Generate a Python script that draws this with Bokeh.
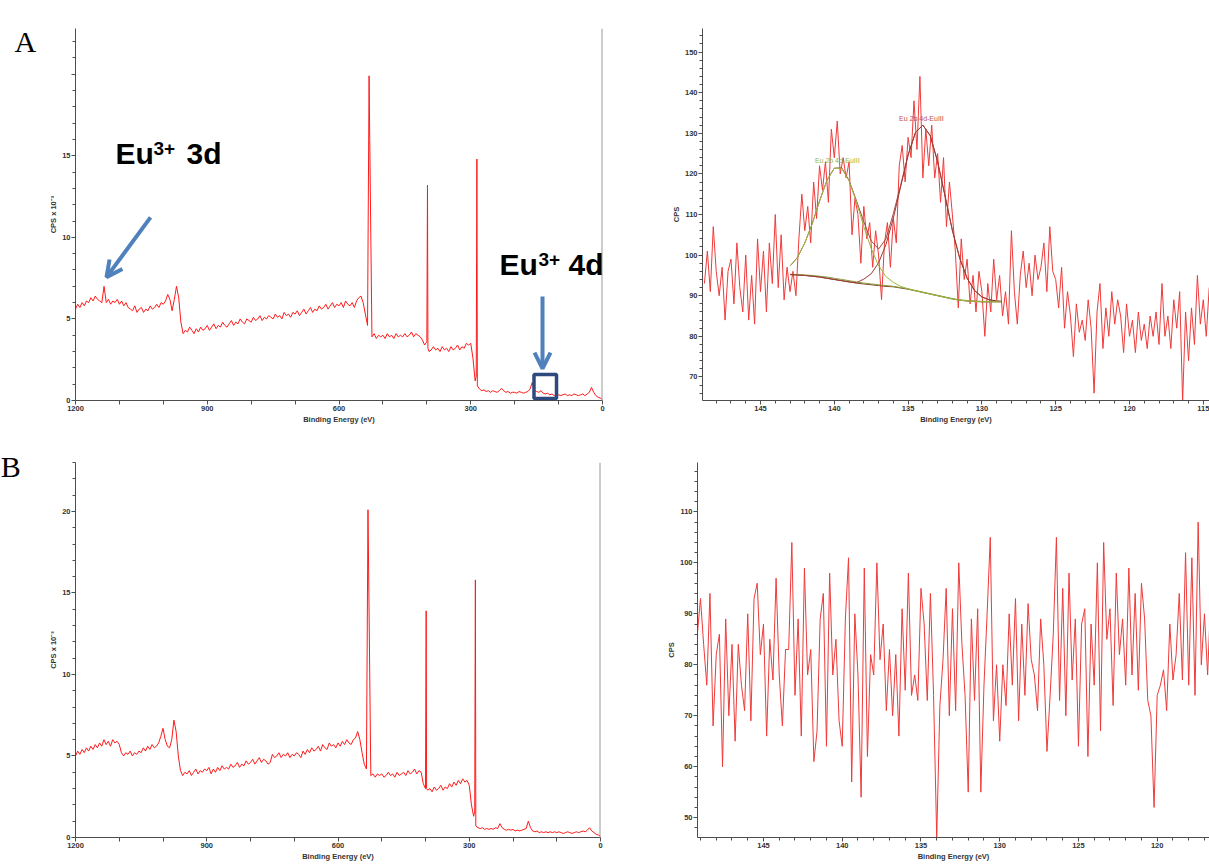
import numpy as np
import pandas as pd
from bokeh.plotting import figure
from bokeh.models import Range1d, FixedTicker, Label, Arrow, OpenHead, BoxAnnotation, Span
from bokeh.layouts import column, row
from bokeh.embed import file_html
from bokeh.resources import INLINE

# ---------------- survey spectra (binding energy, eV; counts in kCPS) ----------------
survey_be = list(range(1200, -1, -5))
survey_a_cps = [
    5.6, 5.9, 5.7, 6.0, 5.8, 6.1, 6.0, 6.3, 6.1, 6.4,
    6.2, 6.1, 6.0, 7.0, 6.0, 6.2, 5.9, 6.1, 6.0, 6.2,
    5.9, 6.1, 5.8, 6.0, 5.7, 5.6, 5.5, 5.8, 5.4, 5.6,
    5.7, 5.4, 5.6, 5.5, 5.8, 5.6, 5.7, 5.9, 5.7, 6.0,
    5.9, 6.1, 6.5, 6.2, 5.5, 6.2, 7.0, 6.3, 4.8, 4.1,
    4.3, 4.2, 4.5, 4.3, 4.1, 4.4, 4.2, 4.5, 4.3, 4.4,
    4.6, 4.3, 4.5, 4.7, 4.4, 4.6, 4.5, 4.8, 4.6, 4.5,
    4.7, 4.9, 4.6, 4.8, 4.7, 5.0, 4.8, 4.7, 5.0, 4.9,
    4.8, 5.1, 4.9, 5.0, 5.2, 4.9, 5.1, 5.0, 5.2, 5.1,
    5.0, 5.3, 5.1, 5.2, 5.0, 5.4, 5.2, 5.3, 5.1, 5.4,
    5.3, 5.5, 5.2, 5.4, 5.6, 5.3, 5.5, 5.7, 5.4, 5.6,
    5.5, 5.8, 5.6, 5.7, 5.9, 5.6, 5.8, 6.0, 5.7, 5.9,
    5.8, 6.0, 5.7, 6.1, 5.9, 5.8, 6.0, 5.7, 6.1, 6.3,
    6.4, 6.0, 5.3, 4.6, 16.0, 3.9, 4.1, 3.8, 4.0, 3.9,
    4.0, 3.8, 4.1, 3.9, 4.0, 3.8, 4.1, 3.9, 4.0, 3.9,
    4.1, 3.9, 4.0, 4.2, 3.9, 4.1, 4.0, 3.9, 3.7, 3.4,
    3.6, 3.0, 3.1, 3.3, 3.1, 3.2, 3.0, 3.3, 3.1, 3.2,
    3.0, 3.3, 3.1, 3.2, 3.4, 3.1, 3.3, 3.2, 3.5, 3.4,
    3.5, 2.6, 1.2, 0.9, 0.7, 0.6, 0.65, 0.55, 0.6, 0.5,
    0.6, 0.55, 0.5, 0.6, 0.75, 0.6, 0.5, 0.55, 0.45, 0.5,
    0.5, 0.45, 0.55, 0.5, 0.45, 0.5, 0.55, 0.7, 1.1, 0.6,
    0.55, 0.5, 0.6, 0.45, 0.4, 0.45, 0.35, 0.4, 0.3, 0.35,
    0.35, 0.3, 0.35, 0.4, 0.3, 0.35, 0.3, 0.4, 0.35, 0.3,
    0.35, 0.4, 0.3, 0.4, 0.5, 0.8, 0.5, 0.3, 0.2, 0.15,
    0.05,
]
spike_a_be = [531.5, 398.5, 397.5, 287.5, 286.0]
spike_a_cps = [19.9, 13.2, 3.2, 1.5, 14.8]

survey_b_cps = [
    5.0, 5.3, 5.1, 5.4, 5.2, 5.5, 5.3, 5.6, 5.4, 5.7,
    5.5, 5.8, 5.6, 6.0, 5.7, 5.9, 5.6, 6.0, 5.8, 5.9,
    5.7, 5.2, 5.0, 5.2, 5.1, 5.3, 5.0, 5.2, 5.1, 5.3,
    5.2, 5.5, 5.3, 5.6, 5.4, 5.7, 5.5, 5.6, 5.8, 6.2,
    6.7, 6.0, 5.6, 5.5, 6.0, 7.2, 6.5, 5.0, 4.1, 3.8,
    4.0, 3.9, 4.1, 3.8, 4.0, 4.2, 3.9, 4.1, 4.0, 4.2,
    4.1, 4.3, 3.9, 4.2, 4.0, 4.3, 4.1, 4.4, 4.2, 4.3,
    4.2, 4.5, 4.3, 4.4, 4.6, 4.3, 4.5, 4.4, 4.7, 4.5,
    4.6, 4.8, 4.5, 4.7, 4.9, 4.6, 4.8, 4.7, 4.5, 4.6,
    5.1, 4.9, 5.0, 5.2, 4.9, 5.1, 5.0, 5.2, 4.9, 5.1,
    5.0, 5.2, 5.1, 4.9, 5.3, 5.1, 5.4, 5.2, 5.5, 5.3,
    5.4, 5.6, 5.3, 5.7, 5.5, 5.4, 5.8, 5.6, 5.7, 5.5,
    5.8, 5.6, 5.9, 5.7, 6.0, 5.8, 5.7, 6.0, 6.1, 6.5,
    6.0, 5.2, 4.5, 4.2, 16.4, 3.8, 3.9, 3.7, 3.9, 3.8,
    3.9, 3.7, 3.8, 4.0, 3.8, 3.9, 3.7, 4.0, 3.8, 3.9,
    4.0, 3.8, 4.1, 3.9, 4.0, 4.2, 3.9, 4.1, 4.0, 3.3,
    3.0, 2.9, 3.0, 2.8, 3.1, 2.9, 3.0, 3.2, 2.9, 3.1,
    3.0, 3.3, 3.1, 3.4, 3.2, 3.5, 3.3, 3.6, 3.4, 3.5,
    3.2, 2.0, 1.3, 0.7, 0.6, 0.55, 0.6, 0.5, 0.55, 0.5,
    0.55, 0.5, 0.6, 0.55, 0.85, 0.6, 0.5, 0.45, 0.5, 0.45,
    0.5, 0.4, 0.45, 0.4, 0.45, 0.5, 0.55, 1.0, 0.6, 0.4,
    0.35, 0.4, 0.3, 0.35, 0.3, 0.35, 0.3, 0.35, 0.3, 0.35,
    0.3, 0.35, 0.3, 0.25, 0.3, 0.35, 0.3, 0.25, 0.3, 0.35,
    0.3, 0.35, 0.4, 0.35, 0.45, 0.6, 0.4, 0.3, 0.2, 0.15,
    0.1,
]
spike_b_be = [531.5, 398.5, 397.5, 287.5, 286.0]
spike_b_cps = [20.1, 13.9, 3.0, 1.6, 15.8]

# ---------------- Eu 4d high-resolution region ----------------
hr_a_be = np.round(np.arange(148.8, 114.5, -0.2), 1)
hr_a_cps = [
    93, 101, 91, 107, 96,
    90, 97, 84, 96, 99,
    88, 103, 92, 86, 100,
    84, 95, 83, 104, 91,
    101, 86, 103, 93, 110,
    92, 105, 89, 97, 91,
    96, 90, 104, 115, 106,
    112, 103, 118, 109, 122,
    116, 123, 113, 131, 124,
    133, 120, 124, 119, 123,
    105, 114, 110, 98, 112,
    104, 108, 97, 106, 100,
    89, 103, 108, 97, 109,
    103, 122, 127, 118, 129,
    124, 138, 126, 144, 119,
    131, 122, 132, 119, 125,
    113, 124, 107, 118, 110,
    101, 87, 104, 94, 99,
    88, 95, 86, 96, 91,
    80, 93, 86, 99, 89,
    95, 85, 91, 83, 106,
    91, 83, 95, 101, 92,
    98, 90, 100, 94, 97,
    103, 91, 107, 96, 94,
    87, 97, 82, 91, 85,
    75, 88, 81, 84, 79,
    89, 82, 66, 86, 93,
    77, 87, 80, 91, 83,
    89, 85, 76, 88, 80,
    84, 76, 86, 79, 83,
    77, 85, 80, 86, 78,
    93, 80, 85, 77, 89,
    82, 91, 64, 86, 74,
    87, 78, 95, 83, 89,
    80, 92,
]

hr_b_be = np.round(np.arange(149.2, 116.5, -0.2), 1)
hr_b_cps = [
    86, 93,
    84, 76, 94, 68, 82,
    86, 60, 89, 70, 84,
    65, 84, 76, 71, 90,
    69, 93, 96, 82, 88,
    66, 85, 77, 97, 78,
    68, 83, 83, 104, 74,
    89, 66, 99, 78, 83,
    61, 67, 89, 94, 64,
    98, 78, 85, 69, 64,
    89, 101, 57, 90, 78,
    54, 99, 62, 82, 78,
    100, 81, 88, 71, 83,
    70, 82, 66, 91, 75,
    98, 74, 78, 73, 95,
    88, 73, 94, 74, 46,
    72, 81, 95, 70, 91,
    71, 100, 84, 74, 55,
    89, 73, 91, 55, 76,
    90, 105, 69, 80, 65,
    80, 72, 90, 76, 93,
    69, 88, 74, 92, 81,
    78, 71, 89, 80, 63,
    74, 86, 105, 73, 95,
    70, 98, 77, 89, 64,
    88, 91, 62, 88, 76,
    100, 67, 104, 85, 91,
    72, 98, 82, 89, 76,
    99, 78, 94, 75, 96,
    89, 73, 70, 52, 74,
    76, 79, 71, 88, 77,
    82, 94, 77, 102, 76,
    101, 74, 108, 80, 90,
    78, 93,
]

# peak-fit curves (right)
fit_be = [143.0, 142.5, 142.0, 141.5, 141.0, 140.5, 140.0, 139.5, 139.0, 138.5,
          138.0, 137.5, 137.0, 136.5, 136.0, 135.5, 135.0, 134.5, 134.0, 133.5,
          133.0, 132.5, 132.0, 131.5, 131.0, 130.5, 130.0, 129.5, 129.0, 128.7]
fit_bg1 = [95.2, 95.1, 95.0, 94.8, 94.6, 94.3, 94.0, 93.7, 93.4, 93.1,
           92.9, 92.7, 92.5, 92.3, 92.2, 91.9, 91.6, 91.2, 90.8, 90.4,
           90.0, 89.6, 89.2, 88.9, 88.7, 88.6, 88.5, 88.5, 88.5, 88.5]
fit_bg2 = [95.3, 95.2, 95.1, 95.0, 94.8, 94.6, 94.3, 94.0, 93.7, 93.4,
           93.1, 92.9, 92.7, 92.5, 92.3, 92.0, 91.7, 91.3, 90.9, 90.5,
           90.1, 89.7, 89.3, 89.0, 88.8, 88.7, 88.6, 88.6, 88.6, 88.6]
fit_comp1 = [97.3, 99.4, 103.0, 107.7, 113.3, 118.4, 121.4, 121.4, 118.3, 113.0,
             107.0, 101.6, 97.4, 94.7, 93.3, 92.3, 91.7, 91.2, 90.8, 90.4,
             90.0, 89.6, 89.2, 88.9, 88.7, 88.6, 88.5, 88.5, 88.5, 88.5]
fit_comp2 = [95.2, 95.1, 95.0, 94.8, 94.6, 94.3, 94.0, 93.7, 93.4, 93.2,
             94.1, 95.4, 98.1, 102.6, 109.1, 116.9, 124.6, 130.2, 132.0, 129.4,
             123.0, 114.6, 106.1, 99.2, 94.3, 91.3, 89.7, 89.0, 88.7, 88.6]
fit_env = [97.3, 99.4, 103.0, 107.7, 113.3, 118.4, 121.4, 121.5, 118.4, 113.4,
           108.2, 103.5, 101.5, 104.0, 110.2, 117.3, 124.7, 130.2, 132.0, 129.4,
           123.0, 114.6, 106.1, 99.2, 94.3, 91.3, 89.7, 89.0, 88.7, 88.6]

assert len(survey_a_cps) == len(survey_be) == len(survey_b_cps)
assert len(hr_a_cps) == len(hr_a_be), (len(hr_a_cps), len(hr_a_be))
assert len(hr_b_cps) == len(hr_b_be), (len(hr_b_cps), len(hr_b_be))


def merged(be, cps, sbe, scps):
    df = pd.DataFrame({"be": list(be) + list(sbe), "cps": list(cps) + list(scps)})
    return df.sort_values("be", ascending=False)


AX = "#4d4d4d"
FONT = "Liberation Sans"


def style(p, xmaj, xmin, ymaj, ymin, ylabel, xover=None, yover=None):
    p.xaxis.ticker = FixedTicker(ticks=xmaj, minor_ticks=xmin)
    p.yaxis.ticker = FixedTicker(ticks=ymaj, minor_ticks=ymin)
    if xover:
        p.xaxis.major_label_overrides = xover
    if yover:
        p.yaxis.major_label_overrides = yover
    p.xaxis.axis_label = "Binding Energy (eV)"
    p.yaxis.axis_label = ylabel
    for ax in (p.xaxis[0], p.yaxis[0]):
        ax.axis_line_color = AX
        ax.axis_line_width = 1
        ax.major_tick_line_color = AX
        ax.minor_tick_line_color = AX
        ax.major_tick_out = 4
        ax.major_tick_in = 0
        ax.minor_tick_out = 3
        ax.minor_tick_in = 0
        ax.major_label_text_font = FONT
        ax.major_label_text_font_style = "bold"
        ax.major_label_text_font_size = "7.5px"
        ax.major_label_text_color = "#333333"
        ax.axis_label_text_font = FONT
        ax.axis_label_text_font_style = "bold"
        ax.axis_label_text_font_size = "7.5px"
        ax.axis_label_text_color = "#333333"
        ax.major_label_standoff = 1
        ax.axis_label_standoff = 1
    p.xgrid.visible = False
    p.ygrid.visible = False
    p.outline_line_color = None
    p.background_fill_color = "white"
    p.border_fill_color = "white"


# ---------------- panel A, survey ----------------
pA = figure(width=640, height=440, output_backend="svg", toolbar_location=None,
            x_range=Range1d(1200, 0), y_range=Range1d(0, 22.8),
            min_border_left=75, min_border_right=38, min_border_top=14, min_border_bottom=40)
dA = merged(survey_be, survey_a_cps, spike_a_be, spike_a_cps)
pA.line(dA["be"], dA["cps"], line_color="#ff1a1a", line_width=1)
xt = list(range(0, 1201, 100))
style(pA, xt, [], [0, 5, 10, 15, 20], list(range(0, 23)), "CPS x 10\u207b\u00b3",
      xover={v: "" for v in xt if v % 300 != 0}, yover={20: ""})
pA.add_layout(Span(location=0, dimension="height", line_color="#9a9a9a", line_width=2))
pA.add_layout(Label(x=1338.8, y=22.03, text="A", text_font="Liberation Serif", text_baseline="alphabetic",
                    text_font_size="30px", text_color="black"), "left")
blue = "#4f81bd"
for txt, x, y, sz in [("Eu", 1108.9, 15.12, "30px"), ("3+", 1022.4, 15.42, "19px"), ("3d", 947.2, 15.12, "30px"),
                      ("Eu", 234.5, 8.33, "30px"), ("3+", 145.7, 8.62, "19px"), ("4d", 77.4, 8.33, "30px")]:
    pA.add_layout(Label(x=x, y=y, text=txt, text_font=FONT, text_font_style="bold", text_baseline="alphabetic",
                        text_font_size=sz, text_color="black"))
pA.add_layout(Arrow(end=OpenHead(size=16, line_color=blue, line_width=4),
                    x_start=1029.2, y_start=11.22, x_end=1129.4, y_end=7.56,
                    line_color=blue, line_width=4))
pA.add_layout(Arrow(end=OpenHead(size=16, line_color=blue, line_width=4),
                    x_start=136.6, y_start=6.38, x_end=136.6, y_end=1.95,
                    line_color=blue, line_width=4))
pA.add_layout(BoxAnnotation(left=156.0, right=104.7, bottom=0.12, top=1.59,
                            fill_alpha=0, line_color="#2e4a7c", line_alpha=1, line_width=3.5))

# ---------------- panel A, Eu 4d ----------------
pA2 = figure(width=569, height=440, output_backend="svg", toolbar_location=None,
             x_range=Range1d(148.93, 114.58), y_range=Range1d(64.2, 155.8),
             min_border_left=62, min_border_right=0, min_border_top=28, min_border_bottom=35)
pA2.line(hr_a_be, hr_a_cps, line_color="#f03a3a", line_width=1)
pA2.line(fit_be, fit_env, line_color="#a5483c", line_width=1)
pA2.line(fit_be, fit_bg1, line_color="#7a3b22", line_width=1)
pA2.line(fit_be, fit_bg2, line_color="#8c9a3a", line_width=1)
pA2.line(fit_be, fit_comp2, line_color="#9e3a32", line_width=1)
pA2.line(fit_be, fit_comp1, line_color="#9ab83c", line_width=1)
style(pA2, [115, 120, 125, 130, 135, 140, 145], list(range(115, 149)),
      list(range(70, 151, 10)), list(range(66, 156, 2)), "CPS")
pA2.add_layout(Label(x=139.8, y=123.3, text="Eu 2b 4d-EuIII", text_align="center", text_baseline="middle",
                     text_font=FONT, text_font_size="7px", text_color="#9ab83c"))
pA2.add_layout(Label(x=134.1, y=133.7, text="Eu 2b 4d-EuIII", text_align="center", text_baseline="middle",
                     text_font=FONT, text_font_size="7px", text_color="#c0504d"))

# ---------------- panel B, survey ----------------
pB = figure(width=640, height=424, output_backend="svg", toolbar_location=None,
            x_range=Range1d(1200, 0), y_range=Range1d(0, 23.0),
            min_border_left=75, min_border_right=40, min_border_top=13, min_border_bottom=27)
dB = merged(survey_be, survey_b_cps, spike_b_be, spike_b_cps)
pB.line(dB["be"], dB["cps"], line_color="#ff1a1a", line_width=1)
style(pB, xt, [], [0, 5, 10, 15, 20], list(range(0, 24)), "CPS x 10\u207b\u00b3",
      xover={v: "" for v in xt if v % 300 != 0})
pB.add_layout(Span(location=0, dimension="height", line_color="#9a9a9a", line_width=2))
pB.add_layout(Label(x=1371.0, y=22.76, text="B", text_font="Liberation Serif", text_baseline="alphabetic",
                    text_font_size="30px", text_color="black"), "left")

# ---------------- panel B, Eu 4d ----------------
pB2 = figure(width=569, height=424, output_backend="svg", toolbar_location=None,
             x_range=Range1d(149.19, 116.68), y_range=Range1d(46.1, 119.7),
             min_border_left=57, min_border_right=0, min_border_top=22, min_border_bottom=21)
pB2.line(hr_b_be, hr_b_cps, line_color="#f03a3a", line_width=1)
style(pB2, [120, 125, 130, 135, 140, 145], list(range(117, 150)),
      list(range(50, 111, 10)), list(range(48, 120, 2)), "CPS")

layout = column(row(pA, pA2), row(pB, pB2))
open("out.html", "w").write(file_html(layout, INLINE))
